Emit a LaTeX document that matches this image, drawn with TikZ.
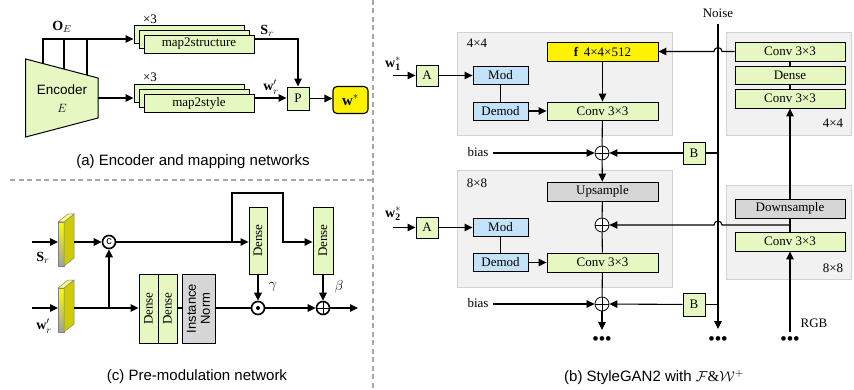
\documentclass[tikz,border=0pt]{standalone}
\usepackage{fontspec}
\setmainfont{Liberation Serif}
\setsansfont{Liberation Sans}
\usetikzlibrary{arrows.meta,calc}
\definecolor{lgreen}{HTML}{E6F8C2}
\definecolor{lblue}{HTML}{C4E2F8}
\definecolor{lgray}{HTML}{D6D6D6}
\definecolor{regfill}{HTML}{F1F1F1}
\definecolor{regdraw}{HTML}{D2D2D2}
\definecolor{slabside}{HTML}{CCCC00}
\definecolor{slabtop}{HTML}{FFFF80}
\definecolor{dashc}{HTML}{A8A8A8}
\newcommand{\fsr}{\fontsize{13}{15}\selectfont\rmfamily}
\newcommand{\fss}{\fontsize{15}{18}\selectfont\sffamily}
\begin{document}
\begin{tikzpicture}[x=1pt,y=-1pt,line width=1.1pt,
  >={Triangle[length=8pt,width=7.5pt]},
  box/.style={draw,line width=0.9pt,inner sep=0pt,font=\fsr,minimum height=18pt},
  gbox/.style={box,fill=lgreen},
  bbox/.style={box,fill=lblue},
  grbox/.style={box,fill=lgray},
  region/.style={fill=regfill,draw=regdraw,line width=0.9pt},
  lab/.style={font=\fsr,inner sep=0pt},
  captxt/.style={font=\fss,inner sep=0pt},
  addc/.style={circle,draw,fill=white,line width=0.8pt,minimum size=14pt,inner sep=0pt,
    path picture={\draw[black,line width=0.8pt] (path picture bounding box.north) -- (path picture bounding box.south)
      (path picture bounding box.west) -- (path picture bounding box.east);}},
  addk/.style={addc,line width=1.6pt,minimum size=13pt},
  dotc/.style={circle,draw,fill=white,line width=1.6pt,minimum size=13pt,inner sep=0pt,
    path picture={\fill[black] (path picture bounding box.center) circle[radius=2pt];}},
  sep/.style={draw=dashc,line width=1.5pt,dash pattern=on 5pt off 3.5pt},
  dots/.style={font=\fontsize{17}{17}\selectfont\sffamily,inner sep=0pt}
]
\useasboundingbox (0,0) rectangle (854,390);

% ---------------- separators
\draw[sep] (10,180) -- (373,180);
\draw[sep] (373,0) -- (373,390);

% ---------------- (a) encoder and mapping
\filldraw[fill=lgreen,draw=black,line width=1pt] (25.7,59) -- (98,78) -- (98,118) -- (25.7,137) -- cycle;
\node[font=\fontsize{13.5}{15}\selectfont\sffamily,inner sep=0pt] (enc) at (62,90) {Encoder};
\node[lab] (encE) at (62,108) {$E$};
\coordinate (e1) at (43,63.5);
\coordinate (e2) at (64,69);
\coordinate (e3) at (87,75);
\coordinate (e4) at (98,98);
\coordinate (oy) at (43,39);

\node[gbox,minimum width=110pt] (s1b) at (189,34) {};
\node[gbox,minimum width=110pt] (s1m) at (194,39) {};
\node[gbox,minimum width=110pt] (s1) at (199,44) {map2structure};
\node[lab] (x3a) at (150,19) {×3};
\node[gbox,minimum width=110pt] (s2b) at (189,93) {};
\node[gbox,minimum width=110pt] (s2m) at (194,98) {};
\node[gbox,minimum width=110pt] (s2) at (199,103) {map2style};
\node[lab] (x3b) at (150,77) {×3};

\node[gbox,minimum width=22pt,minimum height=23pt] (P) at (298,98.5) {P};
\node[box,fill=yellow,rounded corners=4pt,line width=1.1pt,minimum width=35pt,minimum height=27pt,font=\fontsize{15}{17}\selectfont] (ws) at (350.5,100) {$\mathbf{w}^{*}$};

\node[lab,font=\fontsize{14}{16}\selectfont] (OE) at (62,27) {$\mathbf{O}_E$};
\node[lab,font=\fontsize{14}{16}\selectfont] (Sr) at (267,31) {$\mathbf{S}_r$};
\node[lab,font=\fontsize{14}{16}\selectfont] (wr) at (271,87) {$\mathbf{w}'_r$};

\draw[->] (e1) -- (oy) -- (oy -| s1b.west);
\draw (e2) -- (e2 |- oy);
\draw (e3) -- (e3 |- oy);
\draw[->] (e4) -- (e4 -| s2b.west);
\draw[->] (s1.east |- oy) -| (P.north);
\draw[->] (s2.east |- e4) -- (P.west |- e4);
\draw[->] (P.east) -- (P.east -| ws.west);
\node[captxt] (capa) at (193,162) {(a) Encoder and mapping networks};

% ---------------- (c) pre-modulation
\foreach \Y/\nm in {222/sa,288/sb}{
  \shade[top color=yellow,bottom color=gray!75] (58,\Y) rectangle (64,\Y+44);
  \draw[line width=0.5pt,draw=gray] (58,\Y) rectangle (64,\Y+44);
  \filldraw[fill=slabside,draw=gray,line width=0.5pt] (64,\Y) -- (74,\Y-8) -- (74,\Y+36) -- (64,\Y+44) -- cycle;
  \filldraw[fill=slabtop,draw=gray,line width=0.5pt] (58,\Y) -- (68,\Y-8) -- (74,\Y-8) -- (64,\Y) -- cycle;
}
\coordinate (sin) at (32,242);
\coordinate (saf) at (58,242);
\coordinate (sao) at (74,242);
\coordinate (win) at (32,308);
\coordinate (sbf) at (58,308);
\coordinate (sbo) at (74,308);
\node[lab,font=\fontsize{14}{16}\selectfont] (Sr2) at (43,258) {$\mathbf{S}_r$};
\node[lab,font=\fontsize{14}{16}\selectfont] (wr2) at (44,326) {$\mathbf{w}'_r$};

\node[circle,draw,line width=1.6pt,minimum size=13pt,inner sep=0pt,font=\fontsize{11}{12}\selectfont\sffamily] (cat) at (109,242) {c};
\coordinate (jw) at (109,308);
\node[gbox,rotate=90,minimum width=69pt,minimum height=19pt] (d1) at (148.5,308.5) {Dense};
\node[gbox,rotate=90,minimum width=69pt,minimum height=19pt] (d2) at (167.5,308.5) {Dense};
\node[grbox,rotate=90,minimum width=69pt,minimum height=33pt,align=center,font=\fontsize{13}{14}\selectfont\sffamily] (inorm) at (198.5,308.5) {Instance\\Norm};
\node[gbox,rotate=90,minimum width=67pt,minimum height=18pt] (d3) at (258,240.5) {Dense};
\node[gbox,rotate=90,minimum width=67pt,minimum height=20pt] (d4) at (323,240.5) {Dense};
\node[dotc] (mul) at (258,308) {};
\node[addk] (plus) at (323,308) {};
\coordinate (outc) at (358,308);
\coordinate (br) at (232,242);
\coordinate (tp) at (283,193);
\node[lab,font=\fontsize{14}{16}\selectfont] (gam) at (273,287) {$\gamma$};
\node[lab,font=\fontsize{14}{16}\selectfont] (bet) at (339,287) {$\beta$};

\draw[->] (sin) -- (saf);
\draw[->] (win) -- (sbf);
\draw[->] (sao) -- (cat);
\draw (sbo) -- (jw);
\draw[->] (jw) -- (cat);
\draw[->] (jw) -- (jw -| d1.north);
\draw (d2.south |- jw) -- (inorm.north |- jw);
\draw (inorm.south |- mul) -- (mul);
\draw[->] (mul) -- (plus);
\draw[->] (plus) -- (outc);
\draw[->] (cat) -- (cat -| d3.north);
\draw[->] (br) |- (tp) -- (tp |- cat) -- (cat -| d4.north);
\draw[->] (d3.west) -- (mul);
\draw[->] (d4.west) -- (plus);
\node[captxt] (capc) at (197,377) {(c) Pre-modulation network};

% ---------------- (b) StyleGAN2
\draw[region] (457,32) rectangle (672,135);
\draw[region] (457,170) rectangle (672,287);
\draw[region] (726,32) rectangle (851,135);
\draw[region] (726,185) rectangle (851,279);
\node[lab] (r1) at (477,43) {4×4};
\node[lab] (r2) at (477,183) {8×8};
\node[lab] (r3) at (833,123) {4×4};
\node[lab] (r4) at (833,268) {8×8};

\node[lab,font=\fontsize{14}{16}\selectfont] (w1) at (393,64) {$\mathbf{w}_{\mathbf{1}}^{*}$};
\node[lab,font=\fontsize{14}{16}\selectfont] (w2) at (393,214) {$\mathbf{w}_{\mathbf{2}}^{*}$};
\coordinate (w1s) at (393,75.5);
\coordinate (w2s) at (393,227.5);

\node[gbox,minimum width=22pt,minimum height=21pt] (A1) at (427,75.5) {A};
\node[bbox,minimum width=55pt] (M1) at (500.5,75) {Mod};
\node[bbox,minimum width=55pt] (D1) at (500.5,111) {Demod};
\node[gbox,minimum width=111pt] (C1) at (602.5,111) {Conv 3×3};
\node[box,fill=yellow,minimum width=111pt,minimum height=19pt] (F) at (602.5,51.5) {\textbf{f}\,\ 4×4×512};
\node[addc] (ad1) at (602,153) {};
\node[lab] (bias1) at (478,152) {bias};
\node[gbox,minimum width=22pt,minimum height=22pt] (B1) at (694,153) {B};
\node[grbox,minimum width=111pt,minimum height=19pt] (U) at (602.5,191.5) {Upsample};
\node[addc] (ad2) at (602,225) {};
\node[gbox,minimum width=22pt,minimum height=21pt] (A2) at (427,227.5) {A};
\node[bbox,minimum width=55pt] (M2) at (500.5,227) {Mod};
\node[bbox,minimum width=55pt] (D2) at (500.5,262.5) {Demod};
\node[gbox,minimum width=111pt,minimum height=19pt] (C2) at (602.5,262.5) {Conv 3×3};
\node[addc] (ad3) at (602,304) {};
\node[lab] (bias2) at (478,303) {bias};
\node[gbox,minimum width=22pt,minimum height=23pt] (B2) at (694,304.5) {B};

\node[lab] (noise) at (718,13) {Noise};
\coordinate (ntop) at (718,24);
\coordinate (nbot) at (718,329);

\node[gbox,minimum width=110pt,minimum height=19pt] (RA) at (790,51.5) {Conv 3×3};
\node[gbox,minimum width=110pt] (RD) at (790,75) {Dense};
\node[gbox,minimum width=110pt,minimum height=19pt] (RB) at (790,98.5) {Conv 3×3};
\node[grbox,minimum width=110pt,minimum height=19pt] (DS) at (790,208.5) {Downsample};
\node[gbox,minimum width=110pt,minimum height=19pt] (RC) at (790,241.5) {Conv 3×3};
\node[lab] (rgb) at (814,323) {RGB};

\node[dots] (dt1) at (602,341) {\textbullet\hspace{0.5pt}\textbullet\hspace{0.5pt}\textbullet};
\node[dots] (dt2) at (718,341) {\textbullet\hspace{0.5pt}\textbullet\hspace{0.5pt}\textbullet};
\node[dots] (dt3) at (790,341) {\textbullet\hspace{0.5pt}\textbullet\hspace{0.5pt}\textbullet};
\coordinate (e1o) at (602,330);
\coordinate (rgbs) at (790,332);
\coordinate (dj) at (790,225);
\coordinate (h1) at (722,51.5);
\coordinate (h2) at (722,225);
\coordinate (bs1) at (493,153);
\coordinate (bs2) at (493,304);

\draw[->] (w1s) -- (A1);
\draw[->] (w2s) -- (A2);
\draw[->] (A1) -- (A1 -| M1.west);
\draw[->] (A2) -- (A2 -| M2.west);
\draw (M1) -- (D1);
\draw (M2) -- (D2);
\draw[->] (D1) -- (C1);
\draw[->] (D2) -- (C2);
\draw[->] (F) -- (C1);
\draw (C1) -- (ad1);
\draw[->] (bs1) -- (ad1);
\draw[->] (bs2) -- (ad3);
\draw[->] (B1) -- (ad1);
\draw[->] (B2) -- (ad3);
\draw[->] (ad1) -- (U);
\draw (U) -- (ad2);
\draw (ad2) -- (C2);
\draw (C2) -- (ad3);
\draw[->] (ad3) -- (e1o);
\draw[->] (ntop) -- (nbot);
\draw (B1) -- (B1 -| ntop);
\draw (B2) -- (B2 -| ntop);
\draw (RA) -- (RD);
\draw (RD) -- (RB);
\draw[->] (DS) -- (RB);
\draw (DS) -- (RC);
\draw[->] (rgbs) -- (RC);
\draw[->] (RA.west) -- (h1) arc[start angle=0,end angle=180,radius=4pt] -- (F.east);
\draw[->] (dj) -- (h2) arc[start angle=0,end angle=180,radius=4pt] -- (ad2);

\node[captxt] (capb) at (654,377) {(b) StyleGAN2 with $\mathcal{F}\&\mathcal{W}^{+}$};
\end{tikzpicture}
\end{document}
